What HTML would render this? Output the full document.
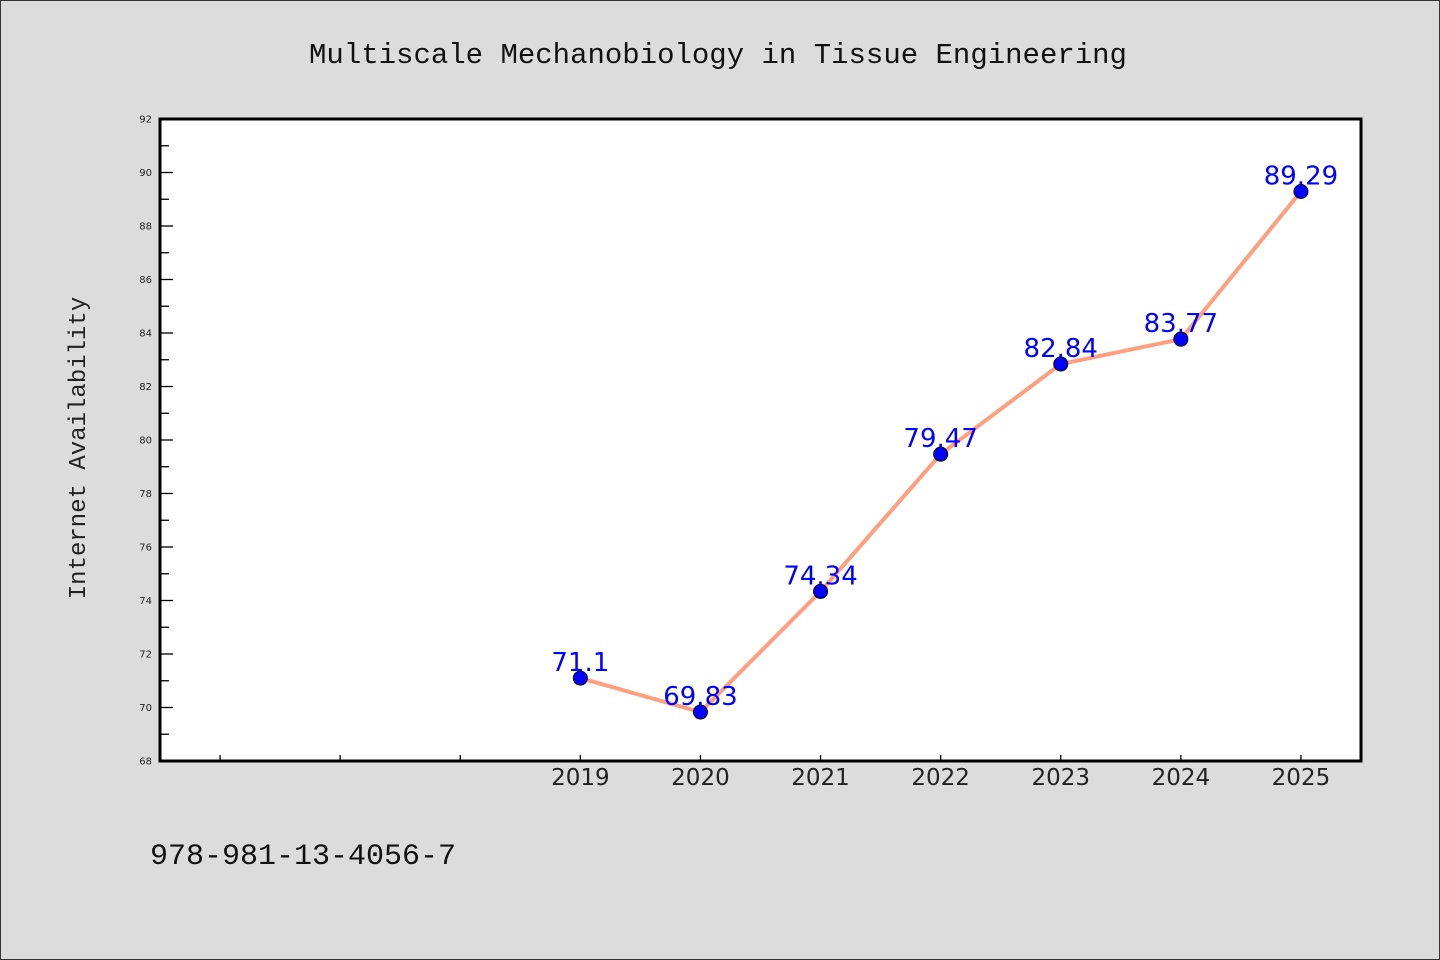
<!DOCTYPE html>
<html><head><meta charset="utf-8"><style>
body{margin:0;background:#dcdcdc;}
svg{display:block;font-family:"Liberation Mono","DejaVu Sans Mono",monospace;}
</style></head><body>
<svg id="chart" width="1440" height="960" xmlns="http://www.w3.org/2000/svg">
<rect x="0.5" y="0.5" width="1439" height="959" fill="#dcdcdc" stroke="#333"/>
<text x="718" y="63" text-anchor="middle" font-size="29" fill="#111">Multiscale Mechanobiology in Tissue Engineering</text>
<rect x="160" y="119" width="1201" height="642" fill="#fff"/>
<text transform="translate(85,448) rotate(-90)" text-anchor="middle" font-size="24" fill="#222">Internet Availability</text>
<text x="150" y="864" font-size="30" fill="#111">978-981-13-4056-7</text>
<g id="g"></g>
</svg>
<script>
const categories=["","","","2019","2020","2021","2022","2023","2024","2025"];
const values=[null,null,null,71.1,69.83,74.34,79.47,82.84,83.77,89.29];
const labels=["","","","71.1","69.83","74.34","79.47","82.84","83.77","89.29"];
const yTicks=[68,70,72,74,76,78,80,82,84,86,88,90,92];
const L=160,R=1361,T=119,B=761,yMin=68,yMax=92;
const band=(R-L)/categories.length;
const xs=i=>L+band*(i+0.5);
const ys=v=>B-(v-yMin)/(yMax-yMin)*(B-T);
const NS="http://www.w3.org/2000/svg",g=document.getElementById('g');
function mk(t,a){const e=document.createElementNS(NS,t);for(const k in a)e.setAttribute(k,a[k]);g.appendChild(e);return e;}
for(let v=yMin;v<=yMax;v++){
  const major=yTicks.includes(v);
  const t=mk('line',{x1:L,x2:L+(major?13:9),y1:ys(v),y2:ys(v),stroke:'#000','stroke-width':1.3});
  
  
  if(major){const tx=mk('text',{x:152,y:ys(v)+3.5,'text-anchor':'end','font-size':10,fill:'#222','font-family':'DejaVu Sans,sans-serif'});tx.textContent=v;
  
  }
}
categories.forEach((c,i)=>{
  const t=mk('line',{x1:xs(i),x2:xs(i),y1:B,y2:B-6,stroke:'#000','stroke-width':1.3});
  
  
  if(c){const tx=mk('text',{x:xs(i),y:785,'text-anchor':'middle','font-size':23,fill:'#222','font-family':'DejaVu Sans,sans-serif'});tx.textContent=c;
  
  }
});
const pts=values.map((v,i)=>v==null?null:[xs(i),ys(v)]).filter(p=>p);
const line=mk('polyline',{points:pts.map(p=>p.join(',')).join(' '),fill:'none',stroke:'#ff9f7f','stroke-width':4,'stroke-linejoin':'round'});


values.forEach((v,i)=>{
  if(v==null)return;
  const c=mk('circle',{cx:xs(i),cy:ys(v),r:7,fill:'#0000ff',stroke:'#000','stroke-width':1});
  
  
  const t=mk('text',{x:xs(i),y:ys(v)-7,'text-anchor':'middle','font-size':26,fill:'#0000ff','font-family':'DejaVu Sans,sans-serif'});
  t.textContent=labels[i];
  
  
});
const fr=mk('rect',{x:L,y:T,width:R-L,height:B-T,fill:'none',stroke:'#000','stroke-width':3});


</script>
</body></html>
